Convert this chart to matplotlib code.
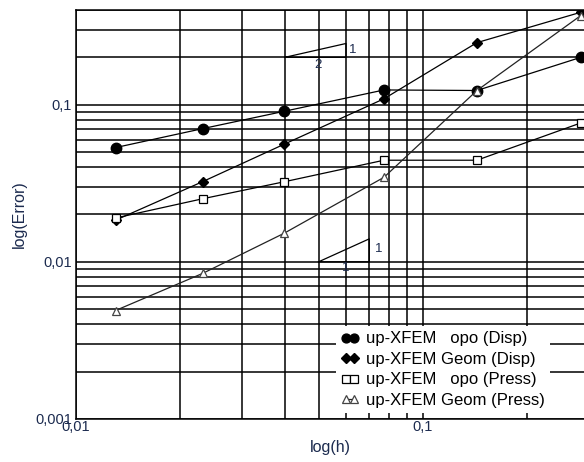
import matplotlib
matplotlib.use('Agg')
import matplotlib.pyplot as plt
from matplotlib.ticker import FixedLocator, FuncFormatter, NullFormatter

plt.rcParams['font.family'] = ['Liberation Sans', 'DejaVu Sans']

# mesh size h
h = [0.013, 0.0232, 0.0398, 0.0772, 0.143, 0.285]

# errors
disp_opo = [0.0533, 0.0704, 0.0907, 0.124, 0.123, 0.2]
disp_geom = [0.0184, 0.0324, 0.056, 0.109, 0.248, 0.387]
press_opo = [0.019, 0.0252, 0.0323, 0.0443, 0.0443, 0.0765]
press_geom = [0.0049, 0.00845, 0.0152, 0.0345, 0.123, 0.369]

labels = ['up-XFEM   opo (Disp)', 'up-XFEM Geom (Disp)',
          'up-XFEM   opo (Press)', 'up-XFEM Geom (Press)']

# slope triangles: (x0, x1, y0, slope)
slope_tri = [(0.04, 0.06, 0.2, 0.5), (0.05, 0.07, 0.01, 1.0)]

txt_col = '#1c2b4f'

fig = plt.figure(figsize=(5.84, 4.62), dpi=100)
ax = fig.add_axes([76 / 584, 1 - 419 / 462, 508 / 584, 409 / 462])
ax.set_xscale('log')
ax.set_yscale('log')
ax.set_xlim(0.01, 0.291)
ax.set_ylim(0.001, 0.4)

ax.grid(True, which='both', color='black', linewidth=1.1)
ax.set_axisbelow(True)

ax.plot(h, disp_opo, color='black', lw=0.9, marker='o', ms=7.5,
        mfc='black', mec='black', label=labels[0])
ax.plot(h, disp_geom, color='black', lw=0.9, marker='D', ms=5.5,
        mfc='black', mec='black', label=labels[1])
ax.plot(h, press_opo, color='black', lw=0.9, marker='s', ms=6,
        mfc='white', mec='black', mew=0.9, label=labels[2])
ax.plot(h, press_geom, color='#222222', lw=0.9, marker='^', ms=6,
        mfc='white', mec='#444444', mew=0.9, label=labels[3])

for x0, x1, y0, s in slope_tri:
    y1 = y0 * (x1 / x0) ** s
    ax.plot([x0, x1, x1, x0], [y0, y1, y0, y0], color='black', lw=0.9)

ax.text(0.0612, 0.222, '1', fontsize=9.5, color=txt_col, ha='left', va='center', zorder=5)
ax.text(0.0497, 0.179, '2', fontsize=9.5, color=txt_col, ha='center', va='center', zorder=5)
ax.text(0.0725, 0.012, '1', fontsize=9.5, color=txt_col, ha='left', va='center', zorder=5)
ax.text(0.0597, 0.0091, '1', fontsize=9.5, color=txt_col, ha='center', va='center', zorder=5)

ax.xaxis.set_major_locator(FixedLocator([0.01, 0.1]))
ax.yaxis.set_major_locator(FixedLocator([0.001, 0.01, 0.1]))
fmt = FuncFormatter(lambda v, p: ('%g' % v).replace('.', ','))
ax.xaxis.set_major_formatter(fmt)
ax.yaxis.set_major_formatter(fmt)
ax.xaxis.set_minor_formatter(NullFormatter())
ax.yaxis.set_minor_formatter(NullFormatter())
ax.tick_params(which='both', length=0, labelsize=10.5, labelcolor=txt_col)
ax.tick_params(axis='x', pad=1)
ax.tick_params(axis='y', pad=3)

for side in ['left', 'bottom', 'top']:
    ax.spines[side].set_color('black')
    ax.spines[side].set_linewidth(1.1)
ax.spines['right'].set_visible(False)

ax.set_xlabel('log(h)', fontsize=11.5, color=txt_col, labelpad=4)
ax.set_ylabel('log(Error)', fontsize=11.5, color=txt_col, labelpad=6)

leg = ax.legend(loc='lower left', bbox_to_anchor=(0.512, 0.015),
                fontsize=12, frameon=True, fancybox=False, framealpha=1,
                edgecolor='white', handlelength=1.1, handletextpad=0.4,
                labelspacing=0.33, borderpad=0.3, numpoints=2,
                markerscale=0.85, borderaxespad=0)
leg.get_frame().set_linewidth(0)

plt.savefig('out.png', dpi=100)
